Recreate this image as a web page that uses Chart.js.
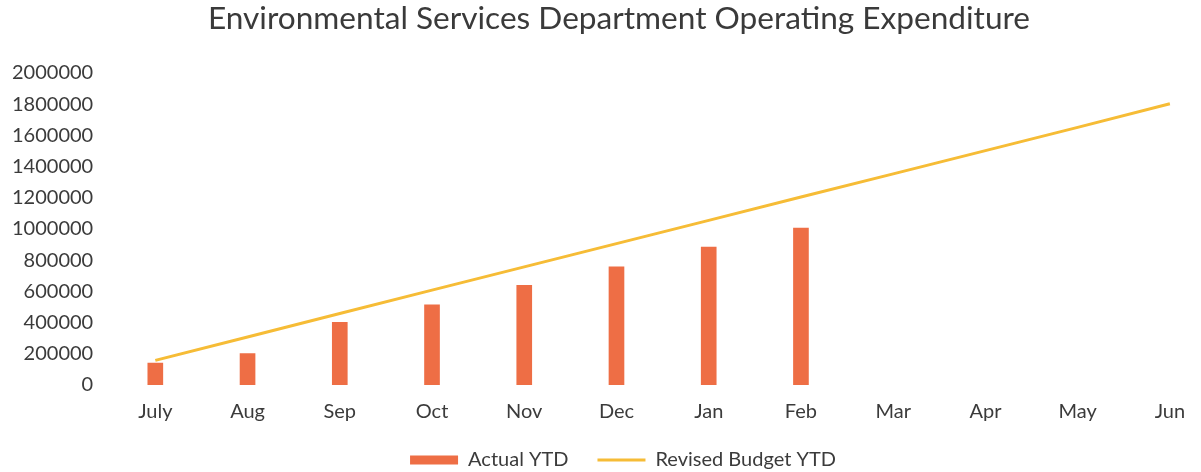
<!DOCTYPE html>
<html>
<head>
<meta charset="utf-8">
<title>Environmental Services Department Operating Expenditure</title>
<script src="https://cdn.jsdelivr.net/npm/chart.js@4/dist/chart.umd.min.js"></script>
<style>
    html, body { margin: 0; padding: 0; background: #fff; overflow: hidden; }
    #wrap { width: 1236px; height: 472px; position: relative; }
</style>
</head>
<body>
<div id="wrap"><canvas id="expenditure"></canvas></div>
<script>
// Financial year months
const months = ['July', 'Aug', 'Sep', 'Oct', 'Nov', 'Dec', 'Jan', 'Feb', 'Mar', 'Apr', 'May', 'Jun'];

// Year-to-date actual spend (reported through Feb)
const actualYTD = [141000, 202000, 402000, 513000, 638000, 758000, 884000, 1006000, null, null, null, null];

// Revised budget, cumulative
const revisedBudgetYTD = [158000, 308000, 458000, 608000, 757000, 906000, 1055000, 1205000, 1353000, 1502000, 1651000, 1802000];

// Value axis
const yMin = 0;
const yMax = 2000000;
const yStep = 200000;

const textColor = '#3b3b3b';
const fontFamily = "Lato, 'Open Sans', sans-serif";

// Title and legend are centred on the whole page, not just the plot
const recentre = {
    id: 'recentre',
    afterLayout(chart) {
        const shifts = [[chart.titleBlock, 9], [chart.legend, 13]];
        for (const [box, dx] of shifts) {
            if (!box) continue;
            box.left += dx;
            box.right += dx;
        }
    }
};

const ctx = document.getElementById('expenditure').getContext('2d');

new Chart(ctx, {
    type: 'bar',
    data: {
        labels: months,
        datasets: [
            {
                type: 'bar',
                label: 'Actual YTD',
                data: actualYTD,
                backgroundColor: '#ee6e45',
                borderWidth: 0,
                barThickness: 15,
                order: 1
            },
            {
                type: 'line',
                label: 'Revised Budget YTD',
                data: revisedBudgetYTD,
                borderColor: '#f6bc36',
                backgroundColor: '#f6bc36',
                borderWidth: 3,
                pointRadius: 0,
                tension: 0,
                order: 0
            }
        ]
    },
    options: {
        responsive: true,
        maintainAspectRatio: false,
        animation: false,
        layout: {
            // legend sits low, so let its padding run past the bottom edge
            padding: { left: 4, right: 20, top: 0, bottom: -8 }
        },
        plugins: {
            title: {
                display: true,
                text: 'Environmental Services Department Operating Expenditure',
                color: '#3a3a3a',
                font: { family: fontFamily, size: 31.6, weight: 'normal' },
                padding: { top: 0, bottom: 35 }
            },
            legend: {
                position: 'bottom',
                labels: {
                    color: textColor,
                    font: { family: fontFamily, size: 20 },
                    usePointStyle: true,
                    pointStyleWidth: 48,
                    boxHeight: 9,
                    padding: 29,
                    sort: (a, b) => a.datasetIndex - b.datasetIndex,
                    generateLabels: (chart) => chart.data.datasets.map((ds, i) => ({
                        text: ds.label,
                        datasetIndex: i,
                        fillStyle: ds.type === 'bar' ? ds.backgroundColor : ds.borderColor,
                        strokeStyle: ds.type === 'bar' ? ds.backgroundColor : ds.borderColor,
                        lineWidth: ds.type === 'bar' ? 0 : 3,
                        pointStyle: ds.type === 'bar' ? 'rect' : 'line',
                        fontColor: textColor,
                        hidden: false
                    }))
                }
            },
            tooltip: { enabled: false }
        },
        scales: {
            x: {
                grid: { display: false },
                border: { display: false },
                ticks: {
                    color: textColor,
                    font: { family: fontFamily, size: 20 },
                    padding: 7
                },
                // pull the legend closer to the month labels
                afterFit: (scale) => { scale.height -= 10; }
            },
            y: {
                min: yMin,
                max: yMax,
                grid: { display: false },
                border: { display: false },
                ticks: {
                    stepSize: yStep,
                    color: textColor,
                    font: { family: fontFamily, size: 20 },
                    padding: 8,
                    callback: (v) => String(v)
                }
            }
        }
    },
    plugins: [recentre]
});
</script>
</body>
</html>
